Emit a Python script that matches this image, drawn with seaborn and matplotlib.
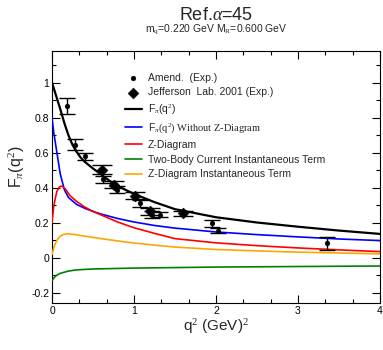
import numpy as np
import pandas as pd
import matplotlib
matplotlib.use("Agg")
import matplotlib.pyplot as plt
import seaborn as sns
from matplotlib.ticker import MultipleLocator, FixedLocator

sns.set_theme(style="ticks")
plt.rcParams['font.family'] = ['Liberation Sans', 'DejaVu Sans']
plt.rcParams['mathtext.fontset'] = 'custom'
plt.rcParams['mathtext.rm'] = 'Liberation Serif'
plt.rcParams['mathtext.it'] = 'Liberation Serif:italic'
plt.rcParams['mathtext.sf'] = 'Liberation Sans'

# ---- curves ----
q_black = [0, 0.05, 0.1, 0.15, 0.2, 0.25, 0.3, 0.35, 0.4, 0.5, 0.6, 0.7, 0.8, 1.0, 1.25, 1.5, 2.0, 2.5, 3.0, 3.5, 4.0]
f_black = [1.0, 0.925, 0.85, 0.77, 0.70, 0.645, 0.605, 0.572, 0.548, 0.51, 0.476, 0.44, 0.41, 0.365, 0.318, 0.278, 0.232, 0.202, 0.178, 0.156, 0.137]

q_blue = [0, 0.02, 0.05, 0.1, 0.15, 0.2, 0.3, 0.4, 0.5, 0.6, 0.8, 1.0, 1.25, 1.5, 2.0, 2.5, 3.0, 3.5, 4.0]
f_blue = [0.8, 0.72, 0.63, 0.48, 0.39, 0.345, 0.305, 0.283, 0.265, 0.25, 0.225, 0.205, 0.185, 0.17, 0.148, 0.133, 0.12, 0.108, 0.099]

q_red = [0, 0.02, 0.04, 0.06, 0.09, 0.12, 0.16, 0.22, 0.3, 0.4, 0.5, 0.6, 0.8, 1.0, 1.25, 1.5, 2.0, 2.5, 3.0, 3.5, 4.0]
f_red = [0.2, 0.29, 0.34, 0.38, 0.405, 0.41, 0.395, 0.355, 0.322, 0.29, 0.265, 0.245, 0.205, 0.172, 0.14, 0.11, 0.086, 0.07, 0.057, 0.046, 0.036]

q_green = [0, 0.03, 0.06, 0.1, 0.2, 0.3, 0.5, 1.0, 1.5, 2.0, 3.0, 4.0]
f_green = [-0.13, -0.11, -0.098, -0.088, -0.075, -0.068, -0.063, -0.058, -0.055, -0.052, -0.049, -0.046]

q_orange = [0, 0.03, 0.06, 0.1, 0.15, 0.2, 0.3, 0.4, 0.6, 0.8, 1.0, 1.25, 1.5, 2.0, 2.5, 3.0, 3.5, 4.0]
f_orange = [0.02, 0.07, 0.1, 0.125, 0.135, 0.138, 0.132, 0.124, 0.11, 0.097, 0.085, 0.073, 0.062, 0.048, 0.04, 0.033, 0.028, 0.023]

# ---- experimental data ----
amend_q = [0.18, 0.28, 0.40, 0.62, 0.79, 1.07, 1.22, 1.32, 1.95, 2.02, 3.35]
amend_f = [0.865, 0.646, 0.58, 0.45, 0.39, 0.312, 0.246, 0.246, 0.198, 0.156, 0.084]
amend_e = [0.045, 0.03, 0.02, 0.02, 0.02, 0.02, 0.02, 0.015, 0.02, 0.015, 0.036]

jlab_q = [0.61, 0.75, 1.01, 1.2, 1.6]
jlab_f = [0.503, 0.417, 0.354, 0.265, 0.255]
jlab_e = [0.025, 0.02, 0.02, 0.02, 0.015]

labels = ["Amend.  (Exp.)", "Jefferson  Lab. 2001 (Exp.)",
          r"F$_{\pi}$(q$^{2}$)",
          r"F$_{\pi}$$\mathrm{(q^{2})\ Without\ Z\text{-}Diagram}$",
          "Z-Diagram", "Two-Body Current Instantaneous Term",
          "Z-Diagram Instantaneous Term"]

fig = plt.figure(figsize=(3.83, 3.5), dpi=100)
ax = fig.add_axes([52/383, 1-303/350, 328/383, 252/350])

curves = [(q_black, f_black, "black", labels[2], 1.6),
          (q_blue, f_blue, "blue", labels[3], 1.2),
          (q_red, f_red, "red", labels[4], 1.2),
          (q_green, f_green, "green", labels[5], 1.2),
          (q_orange, f_orange, "orange", labels[6], 1.2)]

for q, f, c, lab, lw in curves:
    df = pd.DataFrame({"q": q, "f": f})
    sns.lineplot(data=df, x="q", y="f", color=c, lw=lw, ax=ax, label=lab, zorder=3)

ax.errorbar(amend_q, amend_f, yerr=amend_e, fmt='none', ecolor='black', elinewidth=1.0,
            capsize=6, capthick=1.0, zorder=4)
ax.errorbar(jlab_q, jlab_f, yerr=jlab_e, fmt='none', ecolor='black', elinewidth=1.0,
            capsize=7, capthick=1.0, zorder=4)
sns.scatterplot(x=amend_q, y=amend_f, marker='o', s=12, color='black', edgecolor='black',
                ax=ax, label=labels[0], zorder=5)
sns.scatterplot(x=jlab_q, y=jlab_f, marker='D', s=30, color='black', edgecolor='black',
                ax=ax, label=labels[1], zorder=5)

ax.set_xlim(0, 4)
ax.set_ylim(-0.257, 1.18)
ax.xaxis.set_major_locator(MultipleLocator(1))
ax.xaxis.set_minor_locator(MultipleLocator(1/3))
ax.yaxis.set_major_locator(FixedLocator([-0.2, 0, 0.2, 0.4, 0.6, 0.8, 1.0]))
ax.yaxis.set_minor_locator(MultipleLocator(0.1))
ax.set_yticklabels(["-0.2", "0", "0.2", "0.4", "0.6", "0.8", "1"])
ax.tick_params(which='both', direction='in', top=True, right=True, labelsize=7.5,
               colors='black', pad=2)
ax.tick_params(which='major', length=6, width=0.8)
ax.tick_params(which='minor', length=3, width=0.8)
for s in ax.spines.values():
    s.set_color('black')
    s.set_linewidth(0.8)

ax.set_xlabel(r"q$^{2}$ (GeV)$^{2}$", fontsize=11)
ax.xaxis.set_label_coords(0.5, -0.095, transform=ax.transAxes)
ax.xaxis.label.set_va('center')
ax.set_ylabel(r"F$_{\pi}$(q$^{2}$)", fontsize=11.5)
ax.yaxis.set_label_coords((17-52)/328, (303-167)/252, transform=ax.transAxes)
ax.yaxis.label.set_va('center')

fig.text(216/383, 1-16/350, r"Ref.$\alpha$=45", ha='center', va='center', fontsize=13)
fig.text(216/383, 1-30/350, r"m$_{\rm q}$=0.220 GeV M$_{\rm R}$=0.600 GeV", ha='center', va='center', fontsize=7.5)

handles, labs = ax.get_legend_handles_labels()
order = [labs.index(l) for l in labels]
leg = ax.legend([handles[i] for i in order], [labs[i] for i in order],
                loc='upper left', bbox_to_anchor=(0.21, 0.93), frameon=False,
                fontsize=7.5, handlelength=1.6, handletextpad=0.6, labelspacing=0.45,
                borderaxespad=0)

fig.savefig("out.png", dpi=100, facecolor='white')
